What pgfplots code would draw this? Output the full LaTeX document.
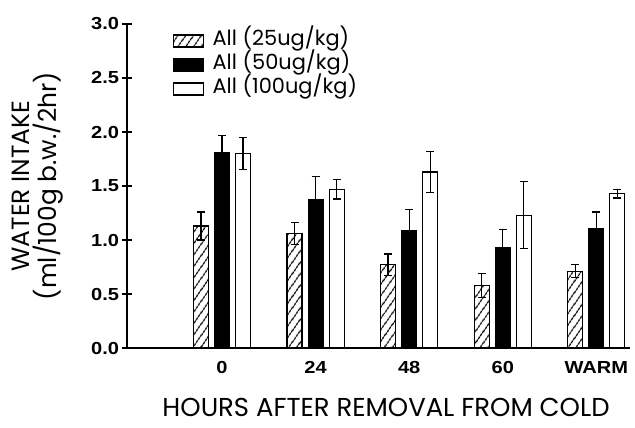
\documentclass[border=0pt]{standalone}
\usepackage{pgfplots}
\pgfplotsset{compat=1.18}
\usepackage{pgfplotstable}
\usepackage{fontspec}
\setmainfont{Liberation Sans}
\newfontfamily\pop{Poppins}
\newfontfamily\tickfont{Liberation Sans}[FakeStretch=1.15]
\usetikzlibrary{patterns.meta}
\pgfplotstableread{
x h he b be w we
0 1.13 0.13 1.81 0.16 1.80 0.15
1 1.06 0.10 1.37 0.22 1.47 0.09
2 0.77 0.10 1.09 0.19 1.63 0.19
3 0.58 0.11 0.93 0.17 1.23 0.31
4 0.71 0.06 1.11 0.15 1.43 0.04
}\data
\begin{document}
\begin{tikzpicture}
\useasboundingbox (0,0) rectangle (635bp,428bp);
\begin{axis}[
  at={(127bp,80bp)}, anchor=south west,
  scale only axis, width=503bp, height=324bp,
  xmin=-1.016, xmax=4.36, ymin=0, ymax=3,
  axis x line*=bottom, axis y line*=left,
  axis line style={line width=1.5bp},
  ybar, bar width=0.16,
  xtick={0,1,2,3,4}, xticklabels={0,24,48,60,WARM},
  x tick style={draw=none},
  ytick={0,0.5,1,1.5,2,2.5,3},
  y tick style={line width=1.3bp, black},
  tick align=center, major tick length=11bp,
  /pgf/number format/assume math mode=true,
  yticklabel={\pgfmathprintnumber[fixed,fixed zerofill,precision=1]{\tick}},
  ticklabel style={font=\tickfont\bfseries\fontsize{17.5}{20}\selectfont},
  y tick label style={xshift=1bp},
  x tick label style={yshift=-4bp},
  xlabel={HOURS AFTER REMOVAL FROM COLD},
  xlabel style={font=\pop\fontsize{26}{30}\selectfont, inner sep=0pt, text depth=0pt,
    at={(axis description cs:0.515,-0.21)}, anchor=base},
  ylabel={WATER INTAKE\\(ml/100g b.w./2hr)},
  ylabel style={font=\pop\fontsize{25}{27}\selectfont, align=center, at={(axis description cs:-0.178,0.5)}, anchor=center},
  legend style={at={(axis description cs:0.085,0.99)}, anchor=north west, draw=none, fill=none,
    font=\pop\fontsize{21}{24}\selectfont, row sep=1bp,
    nodes={inner sep=1.5bp, text height=15bp, text depth=5bp},
    /tikz/every odd column/.append style={column sep=7bp}},
  legend cell align=left,
  mylegend/.style={legend image code/.code={\draw[##1] (0bp,-6bp) rectangle (30bp,6bp);}},
  error bars/y dir=both, error bars/y explicit,
  error bars/error bar style={line width=1.3bp, black, solid},
  error bars/error mark options={rotate=90, mark size=4bp, line width=1.3bp, black},
]
\addplot[bar shift=-0.225, draw=black, line width=1.2bp, fill=white,
  postaction={pattern={Lines[angle=55,distance=6bp,line width=1.2bp]}}, mylegend]
  table[x=x, y=h, y error=he]{\data};
\addlegendentry{All (25ug/kg)}
\addplot[bar shift=0, draw=black, line width=1.2bp, fill=black, mylegend]
  table[x=x, y=b, y error=be]{\data};
\addlegendentry{All (50ug/kg)}
\addplot[bar shift=0.225, draw=black, line width=1.2bp, fill=white, mylegend]
  table[x=x, y=w, y error=we]{\data};
\addlegendentry{All (100ug/kg)}
\end{axis}
\end{tikzpicture}
\end{document}
